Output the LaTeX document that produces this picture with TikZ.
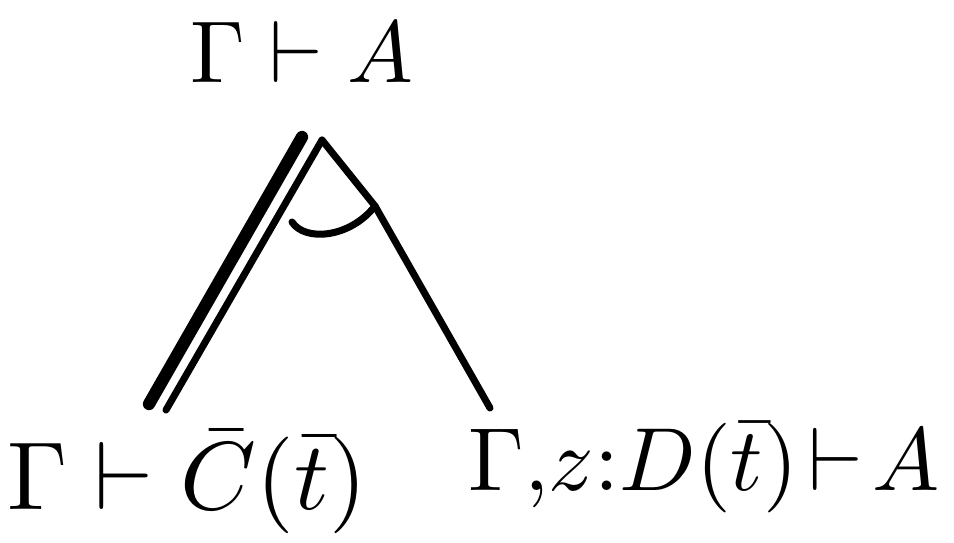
\documentclass[tikz,border=0pt]{standalone}
\usepackage{graphicx}
\usepackage{amsmath}
\newcommand{\seqtext}[2]{\scalebox{#1}{$#2$}}
\tikzset{
  seq/.style={inner sep=0pt},
  edge/.style={line width=4pt, line cap=round, line join=round},
  mainedge/.style={line width=7pt, line cap=round}
}
\begin{document}
\begin{tikzpicture}[x=0.02cm, y=-0.02cm]
    \useasboundingbox (0,0) rectangle (954,542);
    % Conclusion
    \node[seq] (goal) at (302,52) {\seqtext{5.0}{\Gamma\vdash A}};
    
    % Premisses
    \node[seq] (left) at (187,482) {\seqtext{5.5}{\Gamma\vdash\bar{C}(\bar{t})}};
    \node[seq] (right) at (704,468) {\seqtext{5.1}{\Gamma,\!z{:}D(\bar{t})\!\vdash\! A}};
    
    % Points des branches
    \coordinate (apexa) at (302,137);
    \coordinate (apexb) at (322,140);
    \coordinate (basea) at (149,404);
    \coordinate (baseb) at (166,410);
    \coordinate (bend) at (375,206);
    \coordinate (basec) at (490,408);
    \coordinate (arca) at (292,222);
    
    % Branches
    \draw[mainedge] (apexa) -- (basea);
    \draw[edge] (apexb) -- (baseb);
    \draw[edge] (apexb) -- (bend) -- (basec);
    \draw[edge] (arca) .. controls (305,242) and (350,238) .. (bend);
\end{tikzpicture}
\end{document}
